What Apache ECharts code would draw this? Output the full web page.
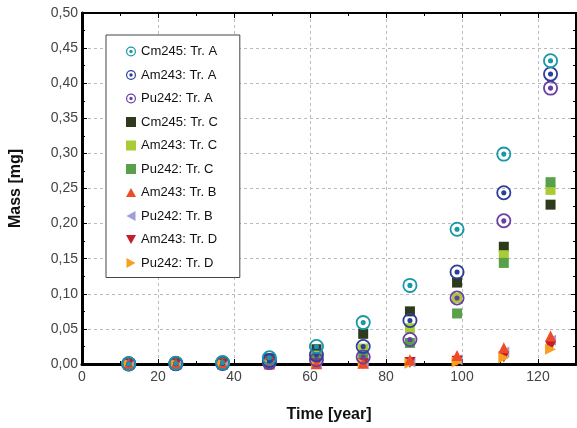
<!DOCTYPE html>
<html lang="en">
<head>
    <meta charset="UTF-8">
    <title>Mass vs time</title>
    <style>
        html, body { margin: 0; padding: 0; background: #fff; }
    </style>
</head>
<body>
    <div id="main" style="width: 577px;height:428px;"></div>
    <script src="https://cdn.jsdelivr.net/npm/echarts@6/dist/echarts.min.js"></script>
    <script>

// time points [year]
var times = [12.3, 24.7, 37, 49.3, 61.7, 74, 86.3, 98.7, 111, 123.3];

// mass [mg]
var cm245A = [0.0003, 0.001, 0.002, 0.009, 0.025, 0.059, 0.112, 0.192, 0.299, 0.432];
var am243A = [0.0002, 0.0006, 0.0015, 0.005, 0.013, 0.025, 0.062, 0.131, 0.244, 0.413];
var pu242A = [0.0001, 0.0003, 0.0008, 0.002, 0.006, 0.010, 0.035, 0.094, 0.204, 0.393];
var cm245C = [0.0003, 0.0008, 0.002, 0.008, 0.021, 0.043, 0.075, 0.116, 0.167, 0.227];
var am243C = [0.0001, 0.0004, 0.001, 0.004, 0.012, 0.022, 0.051, 0.094, 0.155, 0.248];
var pu242C = [0.0001, 0.0003, 0.0008, 0.003, 0.008, 0.012, 0.030, 0.072, 0.144, 0.259];
var am243B = [0, 0, 0, 0.0001, 0.0003, 0.001, 0.006, 0.012, 0.023, 0.040];
var pu242B = [0, 0, 0, 0.0001, 0.0002, 0.0008, 0.003, 0.006, 0.017, 0.034];
var am243D = [0, 0, 0, 0, 0.0002, 0.0005, 0.002, 0.004, 0.010, 0.025];
var pu242D = [0, 0, 0, 0, 0.0001, 0.0004, 0.001, 0.003, 0.009, 0.021];

var names = ['Cm245: Tr. A', 'Am243: Tr. A', 'Pu242: Tr. A',
             'Cm245: Tr. C', 'Am243: Tr. C', 'Pu242: Tr. C',
             'Am243: Tr. B', 'Pu242: Tr. B', 'Am243: Tr. D', 'Pu242: Tr. D'];

// ring + dot
var target = 'path://M0,-10A10,10 0 1,1 0,10A10,10 0 1,1 0,-10Z' +
             'M0,-7.6A7.6,7.6 0 1,0 0,7.6A7.6,7.6 0 1,0 0,-7.6Z' +
             'M0,-3.4A3.4,3.4 0 1,1 0,3.4A3.4,3.4 0 1,1 0,-3.4Z';
var triUp = 'path://M0,-10L10,8L-10,8Z';
var triDown = 'path://M0,10L10,-8L-10,-8Z';
var triLeft = 'path://M-10,0L8,-10L8,10Z';
var triRight = 'path://M10,0L-8,-10L-8,10Z';

function pts(vals) {
    return times.map(function (t, i) { return [t, vals[i]]; });
}

function mk(name, vals, color, symbol, size, z) {
    return {
        name: name,
        type: 'scatter',
        data: pts(vals),
        symbol: symbol,
        symbolSize: size,
        itemStyle: { color: color, opacity: 1 },
        z: z,
        emphasis: { disabled: true }
    };
}

var series = [
    mk(names[0], cm245A, '#1798a6', target, 15, 9),
    mk(names[1], am243A, '#2b3e9c', target, 15, 8),
    mk(names[2], pu242A, '#6b3ea2', target, 15, 7),
    mk(names[3], cm245C, '#2e3a1b', 'rect', 10, 3),
    mk(names[4], am243C, '#a9cb38', 'rect', 10, 3),
    mk(names[5], pu242C, '#59a04a', 'rect', 10, 3),
    mk(names[6], am243B, '#ef4b28', triUp, 11, 5),
    mk(names[7], pu242B, '#a09fd9', triLeft, 11, 4),
    mk(names[8], am243D, '#c21f2a', triDown, 11, 4),
    mk(names[9], pu242D, '#f5a01f', triRight, 11, 4)
];

var labelFont = { fontFamily: 'Liberation Sans', fontSize: 14, color: '#444' };
var nameFont = { fontFamily: 'Liberation Sans', fontSize: 16, fontWeight: 'bold', color: '#111' };
var dashed = { show: true, lineStyle: { type: [3, 3], color: '#bbb', width: 1 } };

var option = {
    animation: false,
    grid: { left: 78, right: 1, top: 13, bottom: 58, show: true, borderColor: '#000', borderWidth: 2 },
    legend: {
        orient: 'vertical',
        left: 106,
        top: 35,
        padding: [10, 22, 8, 20],
        itemWidth: 10,
        itemHeight: 10,
        itemGap: 10.5,
        backgroundColor: '#fff',
        borderColor: '#444',
        borderWidth: 1,
        textStyle: { fontFamily: 'Liberation Sans', fontSize: 13, color: '#111' },
        data: names,
        z: 20
    },
    xAxis: [
        {
            type: 'value', min: 0, max: 130, interval: 20,
            name: 'Time [year]', nameLocation: 'middle', nameGap: 43, nameTextStyle: nameFont,
            axisLine: { onZero: false, lineStyle: { color: '#000', width: 3 } },
            axisTick: { inside: true, length: 5, lineStyle: { color: '#000' } },
            minorTick: { show: true, splitNumber: 2, length: 3, lineStyle: { color: '#000' } },
            axisLabel: Object.assign({ margin: 6, showMaxLabel: false }, labelFont),
            splitLine: dashed
        },
        {
            type: 'value', min: 0, max: 130, interval: 20, position: 'top',
            axisLine: { onZero: false, lineStyle: { color: '#000', width: 2 } },
            axisTick: { inside: true, length: 5, lineStyle: { color: '#000' } },
            minorTick: { show: true, splitNumber: 2, length: 3, lineStyle: { color: '#000' } },
            axisLabel: { show: false },
            splitLine: { show: false }
        }
    ],
    yAxis: [
        {
            type: 'value', min: 0, max: 0.5, interval: 0.05,
            name: 'Mass [mg]', nameLocation: 'middle', nameGap: 58, nameTextStyle: nameFont,
            axisLine: { onZero: false, lineStyle: { color: '#000', width: 3 } },
            axisTick: { inside: true, length: 5, lineStyle: { color: '#000' } },
            minorTick: { show: true, splitNumber: 2, length: 3, lineStyle: { color: '#000' } },
            axisLabel: Object.assign({
                margin: 4,
                formatter: function (v) { return v.toFixed(2).replace('.', ','); }
            }, labelFont),
            splitLine: dashed
        },
        {
            type: 'value', min: 0, max: 0.5, interval: 0.05, position: 'right',
            axisLine: { onZero: false, lineStyle: { color: '#000', width: 2 } },
            axisTick: { inside: true, length: 5, lineStyle: { color: '#000' } },
            minorTick: { show: true, splitNumber: 2, length: 3, lineStyle: { color: '#000' } },
            axisLabel: { show: false },
            splitLine: { show: false }
        }
    ],
    series: series
};

var myChart = echarts.init(document.getElementById('main'));
myChart.setOption(option);

    </script>
</body>
</html>
